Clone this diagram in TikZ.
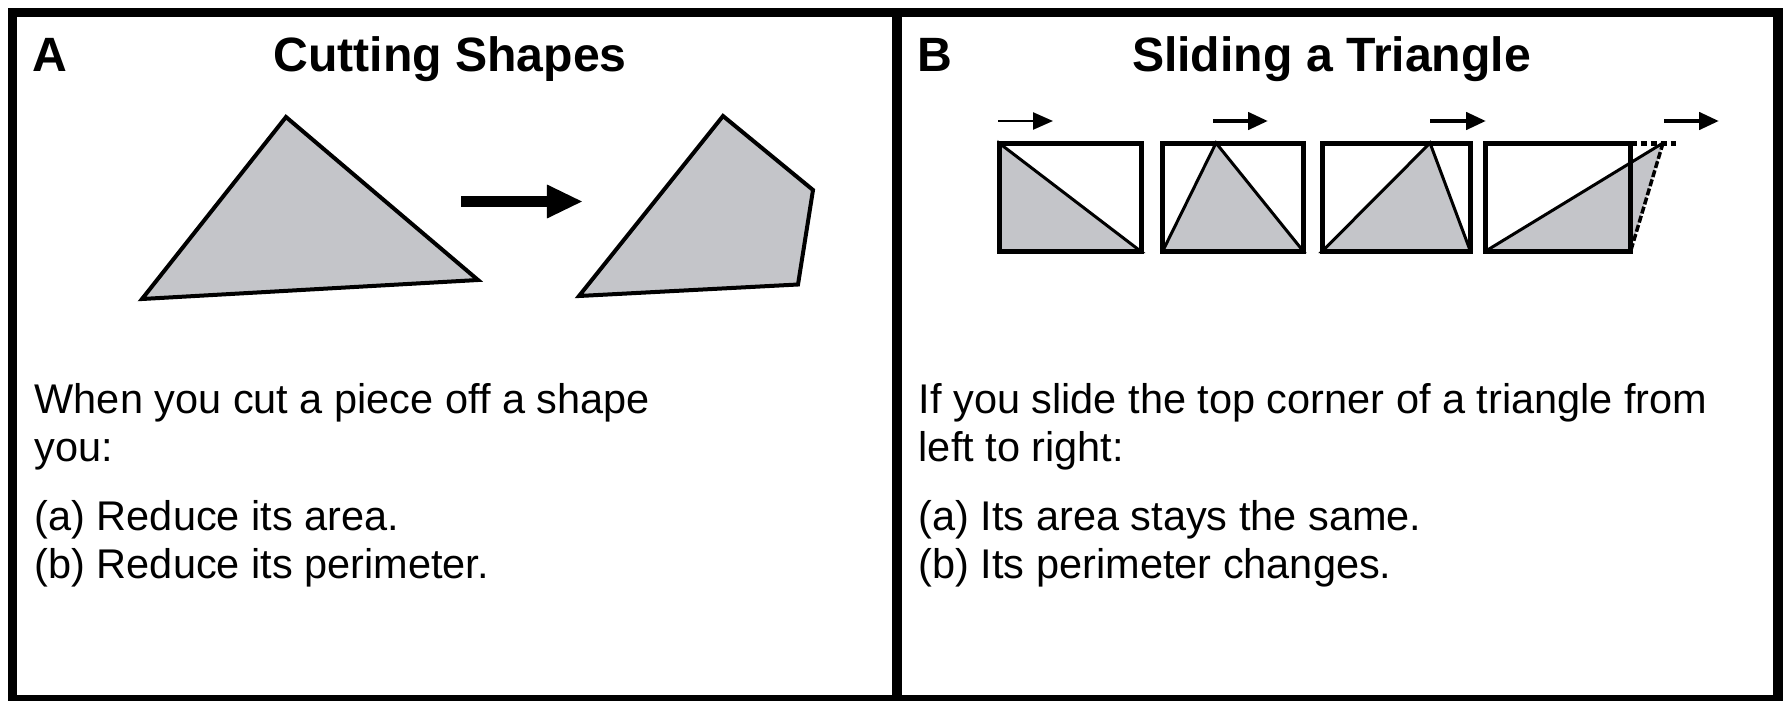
\documentclass[tikz,border=0pt]{standalone}
\usepackage{fontspec}
\setmainfont{Liberation Sans}
\usetikzlibrary{arrows.meta}
\definecolor{shapegray}{RGB}{196,197,201}

\begin{document}
\begin{tikzpicture}[x=0.01cm,y=-0.01cm,
    frameline/.style={line width=0.095cm},
    cutshape/.style={draw,fill=shapegray,line width=0.04cm,line join=miter},
    boxline/.style={line width=0.05cm},
    slidetri/.style={fill=shapegray,line width=0.03cm},
    bigarrow/.style={-{Triangle[length=0.36cm,width=0.31cm]},line width=0.11cm},
    slidearrow/.style={-{Triangle[length=0.2cm,width=0.17cm]},line width=0.045cm},
    panelletter/.style={anchor=base west,inner sep=0pt,font=\fontsize{13.7pt}{16pt}\selectfont\bfseries},
    paneltitle/.style={anchor=base,inner sep=0pt,font=\fontsize{13.7pt}{16pt}\selectfont\bfseries},
    bodyline/.style={anchor=base west,inner sep=0pt,font=\fontsize{11.8pt}{13.5pt}\selectfont}]
  \useasboundingbox (0,0) rectangle (1785,700);

  % frame and divider
  \draw[frameline] (12.5,12.5) rectangle (1778,700);
  \draw[frameline] (897,12.5) -- (897,700);

  % panel A
  \node[panelletter] (lettera) at (32,71) {A};
  \node[paneltitle] (titlea) at (450,71) {Cutting Shapes};
  \coordinate (tleft) at (142,299);
  \coordinate (ttop) at (286,117);
  \coordinate (tright) at (478,280);
  \draw[cutshape] (tleft) -- (ttop) -- (tright) -- cycle;
  \coordinate (arrowa) at (461,201.5);
  \coordinate (arrowb) at (583,201.5);
  \draw[bigarrow] (arrowa) -- (arrowb);
  \coordinate (pleft) at (579,296);
  \coordinate (ptop) at (723,116);
  \coordinate (pcuta) at (813,190);
  \coordinate (pcutb) at (798,284.5);
  \draw[cutshape] (pleft) -- (ptop) -- (pcuta) -- (pcutb) -- cycle;

  \node[bodyline] (texta1) at (34,413) {When you cut a piece off a shape};
  \node[bodyline] (texta2) at (34,461) {you:};
  \node[bodyline] (texta3) at (34,530) {(a) Reduce its area.};
  \node[bodyline] (texta4) at (34,578) {(b) Reduce its perimeter.};

  % panel B
  \node[panelletter] (letterb) at (917,71) {B};
  \node[paneltitle] (titleb) at (1331.5,71) {Sliding a Triangle};

  \coordinate (apexa) at (999,143);
  \coordinate (apexb) at (1216,143);
  \coordinate (apexc) at (1430,143);
  \coordinate (apexd) at (1663,143);

  \draw[slidetri] (999,251.5) -- (apexa) -- (1141,251.5) -- cycle;
  \draw[slidetri] (1162.5,251.5) -- (apexb) -- (1303.5,251.5) -- cycle;
  \draw[slidetri] (1322,251.5) -- (apexc) -- (1470.5,251.5) -- cycle;
  \fill[shapegray] (1485,251.5) -- (apexd) -- (1630.5,251.5) -- cycle;
  \draw[line width=0.03cm] (1485,251.5) -- (apexd);
  \draw[line width=0.035cm,dash pattern=on 0.07cm off 0.025cm] (apexd) -- (1630.5,251.5);

  \draw[boxline] (999,143) rectangle (1141,251.5);
  \draw[boxline] (1162.5,143) rectangle (1303.5,251.5);
  \draw[boxline] (1322,143) rectangle (1470.5,251.5);
  \draw[boxline] (1485,143) rectangle (1630.5,251.5);
  \draw[boxline,dash pattern=on 0.06cm off 0.04cm] (1630.5,143) -- (1676,143);

  \draw[slidearrow,line width=0.025cm] (998,121) -- (1053,121);
  \draw[slidearrow] (1213,121) -- (1268,121);
  \draw[slidearrow] (1430,121) -- (1486,121);
  \draw[slidearrow] (1664,121) -- (1719,121);

  \node[bodyline] (textb1) at (918,413) {If you slide the top corner of a triangle from};
  \node[bodyline] (textb2) at (918,461) {left to right:};
  \node[bodyline] (textb3) at (918,530) {(a) Its area stays the same.};
  \node[bodyline] (textb4) at (918,578) {(b) Its perimeter changes.};
\end{tikzpicture}
\end{document}
